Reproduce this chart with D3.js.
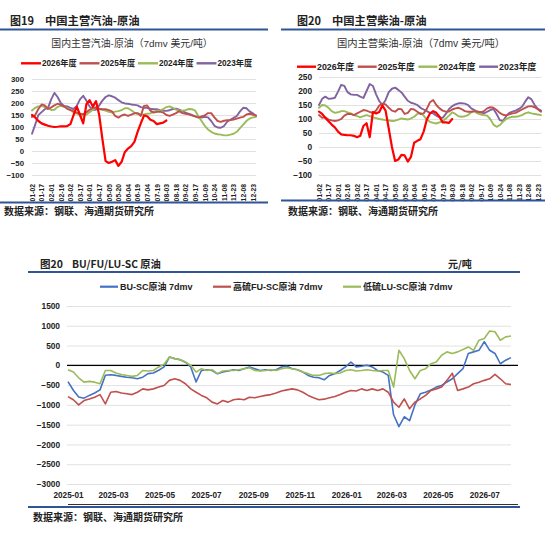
<!DOCTYPE html>
<html><head><meta charset="utf-8">
<script src="https://cdn.jsdelivr.net/npm/d3@7"></script>
<style>html,body{margin:0;padding:0;background:#fff;}svg{display:block;}</style>
</head><body>
<svg id="c" width="550" height="543"></svg>
<script>
// ---------- DATA ----------
const dayLabels = ["01-02","01-17","02-01","02-16","03-02","03-17","04-01","04-17","05-05","05-20","06-04","06-19","07-04","07-19","08-03","08-18","09-02","09-17","10-09","10-24","11-08","11-23","12-08","12-23"];
const LABEL_EVERY = 15;   // category index spacing of labels
const STEP = 5;           // category index spacing of samples
const N_CAT = 351;
const yearNames = ["2026年度","2025年度","2024年度","2023年度"];

const gas2026 = [150,140,125,115,110,105,102,100,101,103,103,104,112,150,185,150,115,195,212,185,208,150,50,-42,-50,-45,-38,-62,-45,-5,10,20,38,80,115,148,145,130,125,112,115,118,127];
const gas2025 = [142,150,175,194,190,175,182,190,197,192,186,176,170,166,160,155,153,162,172,180,181,176,174,174,170,165,146,139,148,152,146,152,157,158,146,188,190,168,160,163,164,160,150,146,152,158,166,158,155,153,148,144,139,144,148,158,158,140,125,121,126,128,129,131,135,139,142,152,155,152,148];
const gas2024 = [169,180,186,188,183,178,171,172,184,188,184,180,172,160,156,148,147,152,162,172,180,175,172,168,163,160,164,166,170,178,178,170,160,155,153,152,155,157,164,168,169,174,183,186,180,172,168,168,170,175,174,168,145,125,105,90,80,73,70,68,65,65,68,72,80,95,110,125,135,140,142];
const gas2023 = [72,110,150,162,174,180,215,242,225,200,188,186,180,175,188,215,230,210,185,172,172,190,210,225,232,228,222,212,203,198,197,194,192,190,183,180,180,176,174,174,170,168,167,170,175,176,172,166,160,155,150,144,141,139,142,140,125,105,98,97,104,122,130,138,146,165,180,178,165,157,146];

const dsl2026 = [126,118,104,92,80,70,55,45,43,42,42,40,35,40,75,85,35,125,120,125,148,130,65,0,-50,-45,-28,-30,-52,-35,15,22,28,55,98,120,128,122,108,88,88,86,100];
const dsl2025 = [114,104,106,98,95,93,95,100,112,118,118,114,120,126,132,130,125,122,130,148,155,152,140,130,126,136,135,118,122,136,134,126,118,120,136,160,168,150,138,130,126,127,134,138,140,135,128,126,126,128,126,124,128,138,142,140,132,122,115,113,117,120,122,128,134,140,145,146,142,135,126];
const dsl2024 = [140,150,148,140,128,122,124,128,128,124,120,114,110,106,110,114,110,106,103,100,98,96,95,93,94,98,102,100,98,102,108,118,122,112,98,90,86,84,88,92,102,112,124,118,110,108,110,114,124,128,120,116,114,112,100,80,72,78,90,100,105,108,108,110,114,120,124,120,118,116,114];
const dsl2023 = [150,172,180,172,173,176,198,222,218,196,188,186,186,180,175,200,225,218,188,164,150,168,196,208,212,204,195,180,165,158,155,150,140,134,128,122,120,112,106,104,118,136,146,152,156,156,155,150,138,132,126,124,120,126,132,136,118,96,93,110,122,126,130,136,144,162,178,170,150,136,130];

const spreadStart = "2025-01-01";
const spreadEnd = "2026-08-05";
const SPREAD_STEP_DAYS = 7;
const monthTicks = ["2025-01","2025-03","2025-05","2025-07","2025-09","2025-11","2026-01","2026-03","2026-05","2026-07"];
const spreadNames = ["BU-SC原油 7dmv","高硫FU-SC原油 7dmv","低硫LU-SC原油 7dmv"];
const bu = [-410,-630,-800,-830,-760,-700,-620,-250,-240,-255,-280,-300,-315,-340,-300,-210,-195,-125,-40,210,170,140,80,-40,-420,-130,-110,-130,-215,-170,-145,-110,-130,-85,-40,-85,-130,-110,-130,-110,-40,-25,-85,-110,-170,-255,-300,-315,-365,-255,-210,-130,-40,85,-40,-25,0,-40,-130,-170,-255,-1250,-1550,-1300,-1400,-1000,-720,-680,-620,-550,-510,-420,-340,-210,-85,300,340,380,600,380,300,40,130,195];
const fu = [-790,-870,-1000,-890,-850,-805,-740,-975,-680,-660,-700,-720,-740,-680,-595,-620,-595,-550,-510,-380,-340,-380,-465,-595,-680,-760,-820,-930,-975,-890,-930,-870,-850,-870,-805,-820,-790,-760,-740,-700,-650,-620,-595,-620,-680,-760,-820,-870,-855,-820,-790,-740,-680,-635,-650,-595,-635,-595,-635,-595,-680,-930,-1060,-850,-1100,-930,-850,-760,-635,-595,-550,-380,-200,-635,-595,-550,-465,-425,-380,-340,-230,-340,-465,-485];
const lu = [-110,-170,-315,-425,-405,-425,-465,-130,-130,-195,-230,-255,-280,-255,-130,-145,-130,-40,25,210,170,145,85,0,-170,-85,-130,-110,-210,-145,-130,-130,-110,-85,-60,-130,-145,-130,-110,-130,-85,-60,-85,-110,-170,-210,-255,-255,-210,-195,-210,-195,-130,-110,-145,-130,-110,-130,-145,-130,-130,-550,380,170,-130,-340,-130,-85,40,85,255,340,300,340,400,465,380,635,680,870,850,635,720,740];

// ---------- STYLE ----------
const LAT = "'Liberation Sans','Noto Sans CJK SC',sans-serif";
const CJK = "'Noto Sans CJK SC',sans-serif";
const BLUE = "#2F5597";
const yearColors = ["#FF0000","#C0504D","#9BBB59","#8064A2"];
const spreadColors = ["#4472C4","#C0504D","#9BBB59"];
const GRID = "#d9d9d9";

const svg = d3.select("#c");
svg.append("rect").attr("width",550).attr("height",543).attr("fill","#fff");

function txt(x,y,s,size,o={}) {
  return svg.append("text").attr("x",x).attr("y",y).attr("dominant-baseline","central")
    .attr("font-family",o.family||LAT).attr("font-size",size).attr("font-weight",o.weight||"normal")
    .attr("fill",o.fill||"#222").attr("text-anchor",o.anchor||"start").text(s);
}
function hline(x1,x2,y,color,w){
  svg.append("line").attr("x1",x1).attr("x2",x2).attr("y1",y).attr("y2",y).attr("stroke",color).attr("stroke-width",w);
}

// ---------- TOP PANELS ----------
function topPanel(p) {
  const x = d3.scaleLinear().domain([0, N_CAT-1]).range(p.xr);
  const y = d3.scaleLinear().domain(p.yd).range(p.yr);
  const ga = svg.append("g").attr("transform",`translate(${p.xr[0]},0)`)
    .call(d3.axisLeft(y).tickValues(d3.range(p.yd[0], p.yd[1]+1, 50)).tickFormat(d3.format("d"))
      .tickSize(-(p.xr[1]-p.xr[0])).tickPadding(p.pad));
  ga.select(".domain").remove();
  ga.selectAll("line").attr("stroke",GRID).attr("stroke-width",0.8);
  ga.selectAll("text").attr("font-family",LAT).attr("font-size",p.yfs).attr("font-weight","bold").attr("fill","#222");

  const gx = svg.append("g").attr("transform",`translate(0,${p.xLabY})`)
    .call(d3.axisBottom(x).tickValues(dayLabels.map((d,i)=>i*LABEL_EVERY)).tickFormat((d,i)=>dayLabels[i]).tickSize(0));
  gx.select(".domain").remove();
  gx.selectAll("text").attr("transform","rotate(-90)").attr("x",0).attr("y",0).attr("dy","0.35em")
    .attr("text-anchor","end").attr("font-family",LAT).attr("font-size",p.xfs).attr("font-weight","bold").attr("fill","#222");

  const line = d3.line().x((d,i)=>x(i*STEP)).y(d=>y(d));
  [3,2,1,0].forEach(k => {
    svg.append("path").datum(p.series[k]).attr("d",line).attr("fill","none")
      .attr("stroke",yearColors[k]).attr("stroke-width",k===0?2.2:1.9)
      .attr("stroke-linejoin","round").attr("stroke-linecap","round");
  });
  yearNames.forEach((n,k) => {
    const lx = p.legX + k*p.legPitch;
    svg.append("line").attr("x1",lx).attr("x2",lx+p.legLine).attr("y1",p.legY).attr("y2",p.legY)
      .attr("stroke",yearColors[k]).attr("stroke-width",2.4);
    txt(lx+p.legLine+1, p.legY, n, p.legFs, {weight:"bold"});
  });
}

// Panel 19
txt(10,20,"图19",11,{family:CJK,weight:"bold"});
txt(45,20,"中国主营汽油-原油",11.3,{family:CJK,weight:"bold"});
hline(0,268,29.5,BLUE,2);
txt(132,43,"国内主营汽油-原油（7dmv 美元/吨）",9.9,{anchor:"middle",fill:"#333"});
topPanel({xr:[32,256], yd:[-100,300], yr:[175,79], pad:8, yfs:7.8, xfs:6.8, xLabY:184,
  series:[gas2026,gas2025,gas2024,gas2023], legX:21, legPitch:58.5, legLine:20, legY:63.3, legFs:8.2});
hline(0,268,202.5,BLUE,2);
txt(4,210,"数据来源：钢联、海通期货研究所",10,{family:CJK,weight:"bold"});

// Panel 20 (diesel)
txt(297,20,"图20",11,{family:CJK,weight:"bold"});
txt(332,20,"中国主营柴油-原油",11.3,{family:CJK,weight:"bold"});
hline(281,545,29.5,BLUE,2);
txt(421,43,"国内主营柴油-原油（7dmv 美元/吨）",10.3,{anchor:"middle",fill:"#333"});
topPanel({xr:[319,541], yd:[-100,250], yr:[175,77], pad:7, yfs:8.3, xfs:6.8, xLabY:184,
  series:[dsl2026,dsl2025,dsl2024,dsl2023], legX:297, legPitch:60.7, legLine:19, legY:66.7, legFs:8.8});
hline(281,545,200.5,BLUE,2);
txt(288,210,"数据来源：钢联、海通期货研究所",10,{family:CJK,weight:"bold"});

// ---------- BOTTOM PANEL ----------
txt(40,263,"图20",10.5,{family:CJK,weight:"bold"});
txt(72,263,"BU/FU/LU-SC 原油",10.3,{family:CJK,weight:"bold"});
txt(448,263,"元/吨",10,{family:CJK,weight:"bold"});
hline(28,520,272,BLUE,2);

(function(){
  const parse = d3.timeParse("%Y-%m-%d");
  const t0 = parse(spreadStart), t1 = parse(spreadEnd);
  const x = d3.scaleTime().domain([t0,t1]).range([68,511]);
  const y = d3.scaleLinear().domain([-3000,1500]).range([484,306]);
  const ga = svg.append("g").attr("transform","translate(67,0)")
    .call(d3.axisLeft(y).tickValues(d3.range(-3000,1501,500)).tickFormat(d3.format("d"))
      .tickSize(-(511-67)).tickPadding(7));
  ga.select(".domain").remove();
  ga.selectAll("line").attr("stroke",GRID).attr("stroke-width",0.8);
  ga.selectAll("text").attr("font-family",LAT).attr("font-size",8.3).attr("font-weight","bold").attr("fill","#222");

  const pm = d3.timeParse("%Y-%m");
  const gx = svg.append("g").attr("transform","translate(0,484)")
    .call(d3.axisBottom(x).tickValues(monthTicks.map(pm)).tickFormat(d3.timeFormat("%Y-%m")).tickSize(0).tickPadding(8));
  gx.select(".domain").remove();
  gx.selectAll("text").attr("font-family",LAT).attr("font-size",8.2).attr("font-weight","bold").attr("fill","#222");

  // zero axis line
  svg.append("line").attr("x1",67).attr("x2",518).attr("y1",y(0)).attr("y2",y(0)).attr("stroke","#000").attr("stroke-width",1.4);

  const line = d3.line().x((d,i)=>x(d3.timeDay.offset(t0,i*SPREAD_STEP_DAYS))).y(d=>y(d));
  [bu,fu,lu].forEach((s,k)=>{
    svg.append("path").datum(s).attr("d",line).attr("fill","none").attr("stroke",spreadColors[k])
      .attr("stroke-width",1.6).attr("stroke-linejoin","round");
  });
  const legXs = [100,213,343];
  spreadNames.forEach((n,k)=>{
    svg.append("line").attr("x1",legXs[k]).attr("x2",legXs[k]+18).attr("y1",286.7).attr("y2",286.7)
      .attr("stroke",spreadColors[k]).attr("stroke-width",2.2);
    txt(legXs[k]+20,286.7,n,9,{weight:"bold"});
  });
})();

hline(68,518,504.5,"#333",1);
hline(28,520,507,BLUE,2);
txt(33,516.5,"数据来源：钢联、海通期货研究所",10,{family:CJK,weight:"bold"});
</script>
</body></html>
